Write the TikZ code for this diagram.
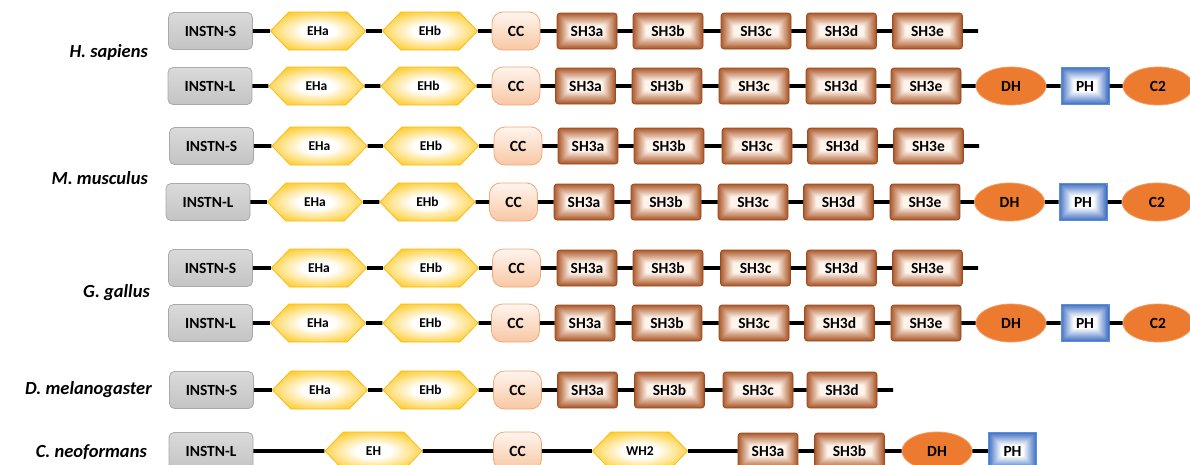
\documentclass[tikz,border=0pt]{standalone}
\usepackage{fontspec}
\setmainfont{Carlito}
\usetikzlibrary{shapes.geometric,shapes.symbols,calc}

\definecolor{instnborder}{HTML}{A9A9A9}
\definecolor{instntop}{HTML}{DADADA}
\definecolor{instnbot}{HTML}{C4C4C4}
\definecolor{ehgold}{HTML}{FFC000}
\definecolor{ehborder}{HTML}{F7BC10}
\definecolor{ccborder}{HTML}{F2A878}
\definecolor{cctop}{HTML}{FFF5EE}
\definecolor{ccbot}{HTML}{F8C7A4}
\definecolor{sh3dark}{HTML}{AD5A2B}
\definecolor{sh3light}{HTML}{FFF4EC}
\definecolor{sh3border}{HTML}{9A4C22}
\definecolor{dhfill}{HTML}{ED7B2F}
\definecolor{dhborder}{HTML}{F29A60}
\definecolor{phdark}{HTML}{4472C4}
\definecolor{phborder}{HTML}{5B8FDA}

\pgfdeclareradialshading{ehshade}{\pgfpoint{0bp}{0bp}}{%
  color(0bp)=(white); color(9bp)=(white); color(33bp)=(ehgold); color(80bp)=(ehgold)}

\newcommand\domfont{\bfseries\fontsize{15.5}{17}\selectfont}
\newcommand\ehfont{\bfseries\fontsize{13.5}{15}\selectfont}
\newcommand\spfont{\bfseries\itshape\fontsize{18.5}{20}\selectfont}

\tikzset{
  x=1pt, y=-1pt,
  nested/.style 2 args={path picture={
    \foreach \k in {0,...,15}{
      \pgfmathtruncatemacro\pp{100-\k*100/15}
      \fill[#1!\pp!#2, rounded corners=2pt]
        ([shift={(\k*0.85pt,\k*0.85pt)}]path picture bounding box.south west)
        rectangle ([shift={(-\k*0.85pt,-\k*0.85pt)}]path picture bounding box.north east);
    }}},
  dom/.style={inner sep=0pt, font=\domfont, text=black},
  instn/.style={dom, draw=instnborder, line width=0.8pt, rounded corners=5pt,
    top color=instntop, bottom color=instnbot, minimum width=84pt, minimum height=37pt},
  eh/.style={dom, shape=signal, signal to=west and east, signal pointer angle=92,
    draw=ehborder, line width=0.8pt, shading=ehshade,
    minimum width=95pt, minimum height=38pt, font=\ehfont},
  cc/.style={dom, draw=ccborder, line width=0.8pt, rounded corners=11pt,
    top color=cctop, bottom color=ccbot, minimum width=48pt, minimum height=38pt},
  sh3/.style={dom, draw=sh3border, line width=0.8pt, rounded corners=3pt,
    minimum width=70pt, minimum height=36pt, nested={sh3dark}{sh3light}},
  sh3n/.style={sh3, minimum width=60pt},
  dh/.style={dom, ellipse, draw=dhborder, fill=dhfill, line width=0.8pt,
    minimum width=70pt, minimum height=38pt},
  ph/.style={dom, draw=phborder, line width=1pt, minimum width=48pt, minimum height=37pt,
    nested={phdark}{white}},
  link/.style={line width=3.8pt, black},
  species/.style={anchor=east, font=\spfont, text=black, inner sep=0pt},
}

\begin{document}
\begin{tikzpicture}
\fill[white] (0,0) rectangle (1190,464);
\useasboundingbox (0,0) rectangle (1190,464);

% species names
\node[species] (hs) at (148,52) {H. sapiens};
\node[species] (mm) at (148,178) {M. musculus};
\node[species] (gg) at (150,293) {G. gallus};
\node[species] (dm) at (152,390) {D. melanogaster};
\node[species] (cn) at (147,452) {C. neoformans};

% H. sapiens, short isoform
\node[instn] (hsS) at (210.5,31) {INSTN-S};
\node[eh] (hsSa) at (318,31) {EHa};
\node[eh] (hsSb) at (430,31) {EHb};
\node[cc] (hsScc) at (516,31) {CC};
\node[sh3n] (hsS1) at (587,31) {SH3a};
\node[sh3] (hsS2) at (668,31) {SH3b};
\node[sh3] (hsS3) at (756,31) {SH3c};
\node[sh3] (hsS4) at (841.5,31) {SH3d};
\node[sh3] (hsS5) at (927.5,31) {SH3e};
\coordinate (hsSend) at (978,31);
\draw[link] (hsS) -- (hsSa) (hsSa) -- (hsSb) (hsSb) -- (hsScc) (hsScc) -- (hsS1)
  (hsS1) -- (hsS2) (hsS2) -- (hsS3) (hsS3) -- (hsS4) (hsS4) -- (hsS5) (hsS5) -- (hsSend);

% H. sapiens, long isoform
\node[instn] (hsL) at (210,86) {INSTN-L};
\node[eh] (hsLa) at (316.5,86) {EHa};
\node[eh] (hsLb) at (428.5,86) {EHb};
\node[cc] (hsLcc) at (516,86) {CC};
\node[sh3n] (hsL1) at (585.5,86) {SH3a};
\node[sh3] (hsL2) at (667,86) {SH3b};
\node[sh3] (hsL3) at (754,86) {SH3c};
\node[sh3] (hsL4) at (841,86) {SH3d};
\node[sh3] (hsL5) at (926,86) {SH3e};
\node[dh] (hsLdh) at (1011,86) {DH};
\node[ph] (hsLph) at (1085,86) {PH};
\node[dh] (hsLc2) at (1158,86) {C2};
\draw[link] (hsL) -- (hsLa) (hsLa) -- (hsLb) (hsLb) -- (hsLcc) (hsLcc) -- (hsL1)
  (hsL1) -- (hsL2) (hsL2) -- (hsL3) (hsL3) -- (hsL4) (hsL4) -- (hsL5)
  (hsL5) -- (hsLdh) (hsLdh) -- (hsLph) (hsLph) -- (hsLc2);

% M. musculus, short isoform
\node[instn] (mmS) at (211.5,146) {INSTN-S};
\node[eh] (mmSa) at (319.5,146) {EHa};
\node[eh] (mmSb) at (431,146) {EHb};
\node[cc] (mmScc) at (518,146) {CC};
\node[sh3n] (mmS1) at (588,146) {SH3a};
\node[sh3] (mmS2) at (669,146) {SH3b};
\node[sh3] (mmS3) at (757,146) {SH3c};
\node[sh3] (mmS4) at (842.5,146) {SH3d};
\node[sh3] (mmS5) at (928.5,146) {SH3e};
\coordinate (mmSend) at (979,146);
\draw[link] (mmS) -- (mmSa) (mmSa) -- (mmSb) (mmSb) -- (mmScc) (mmScc) -- (mmS1)
  (mmS1) -- (mmS2) (mmS2) -- (mmS3) (mmS3) -- (mmS4) (mmS4) -- (mmS5) (mmS5) -- (mmSend);

% M. musculus, long isoform
\node[instn] (mmL) at (208,202) {INSTN-L};
\node[eh] (mmLa) at (315,202) {EHa};
\node[eh] (mmLb) at (427.5,202) {EHb};
\node[cc] (mmLcc) at (513.5,202) {CC};
\node[sh3n] (mmL1) at (584,202) {SH3a};
\node[sh3] (mmL2) at (666,202) {SH3b};
\node[sh3] (mmL3) at (753,202) {SH3c};
\node[sh3] (mmL4) at (838.5,202) {SH3d};
\node[sh3] (mmL5) at (925,202) {SH3e};
\node[dh] (mmLdh) at (1009.5,202) {DH};
\node[ph] (mmLph) at (1083,202) {PH};
\node[dh] (mmLc2) at (1157,202) {C2};
\draw[link] (mmL) -- (mmLa) (mmLa) -- (mmLb) (mmLb) -- (mmLcc) (mmLcc) -- (mmL1)
  (mmL1) -- (mmL2) (mmL2) -- (mmL3) (mmL3) -- (mmL4) (mmL4) -- (mmL5)
  (mmL5) -- (mmLdh) (mmLdh) -- (mmLph) (mmLph) -- (mmLc2);

% G. gallus, short isoform
\node[instn] (ggS) at (210.5,268) {INSTN-S};
\node[eh] (ggSa) at (319,268) {EHa};
\node[eh] (ggSb) at (431,268) {EHb};
\node[cc] (ggScc) at (516.5,268) {CC};
\node[sh3n] (ggS1) at (587,268) {SH3a};
\node[sh3] (ggS2) at (668,268) {SH3b};
\node[sh3] (ggS3) at (755.5,268) {SH3c};
\node[sh3] (ggS4) at (841.5,268) {SH3d};
\node[sh3] (ggS5) at (927.5,268) {SH3e};
\coordinate (ggSend) at (978,268);
\draw[link] (ggS) -- (ggSa) (ggSa) -- (ggSb) (ggSb) -- (ggScc) (ggScc) -- (ggS1)
  (ggS1) -- (ggS2) (ggS2) -- (ggS3) (ggS3) -- (ggS4) (ggS4) -- (ggS5) (ggS5) -- (ggSend);

% G. gallus, long isoform
\node[instn] (ggL) at (210.5,323) {INSTN-L};
\node[eh] (ggLa) at (318,323) {EHa};
\node[eh] (ggLb) at (430.5,323) {EHb};
\node[cc] (ggLcc) at (515.5,323) {CC};
\node[sh3n] (ggL1) at (585,323) {SH3a};
\node[sh3] (ggL2) at (667,323) {SH3b};
\node[sh3] (ggL3) at (754,323) {SH3c};
\node[sh3] (ggL4) at (839.5,323) {SH3d};
\node[sh3] (ggL5) at (926,323) {SH3e};
\node[dh] (ggLdh) at (1011,323) {DH};
\node[ph] (ggLph) at (1085,323) {PH};
\node[dh] (ggLc2) at (1158,323) {C2};
\draw[link] (ggL) -- (ggLa) (ggLa) -- (ggLb) (ggLb) -- (ggLcc) (ggLcc) -- (ggL1)
  (ggL1) -- (ggL2) (ggL2) -- (ggL3) (ggL3) -- (ggL4) (ggL4) -- (ggL5)
  (ggL5) -- (ggLdh) (ggLdh) -- (ggLph) (ggLph) -- (ggLc2);

% D. melanogaster
\node[instn] (dmS) at (211.5,390) {INSTN-S};
\node[eh] (dmSa) at (320,390) {EHa};
\node[eh] (dmSb) at (430.5,390) {EHb};
\node[cc] (dmScc) at (517.5,390) {CC};
\node[sh3n] (dmS1) at (587.5,390) {SH3a};
\node[sh3] (dmS2) at (669.5,390) {SH3b};
\node[sh3] (dmS3) at (758,390) {SH3c};
\node[sh3] (dmS4) at (842,390) {SH3d};
\coordinate (dmSend) at (893,390);
\draw[link] (dmS) -- (dmSa) (dmSa) -- (dmSb) (dmSb) -- (dmScc) (dmScc) -- (dmS1)
  (dmS1) -- (dmS2) (dmS2) -- (dmS3) (dmS3) -- (dmS4) (dmS4) -- (dmSend);

% C. neoformans
\node[instn] (cnL) at (211,451) {INSTN-L};
\node[eh, minimum width=97pt] (cnEH) at (373.5,451) {EH};
\node[cc] (cnCC) at (517.5,451) {CC};
\node[eh] (cnWH) at (640,451) {WH2};
\node[sh3n] (cn1) at (768,451) {SH3a};
\node[sh3] (cn2) at (849.5,451) {SH3b};
\node[dh] (cnDH) at (937,451) {DH};
\node[ph] (cnPH) at (1012.5,451) {PH};
\draw[link] (cnL) -- (cnEH) (cnEH) -- (cnCC) (cnCC) -- (cnWH) (cnWH) -- (cn1)
  (cn1) -- (cn2) (cn2) -- (cnDH) (cnDH) -- (cnPH);
\end{tikzpicture}
\end{document}
